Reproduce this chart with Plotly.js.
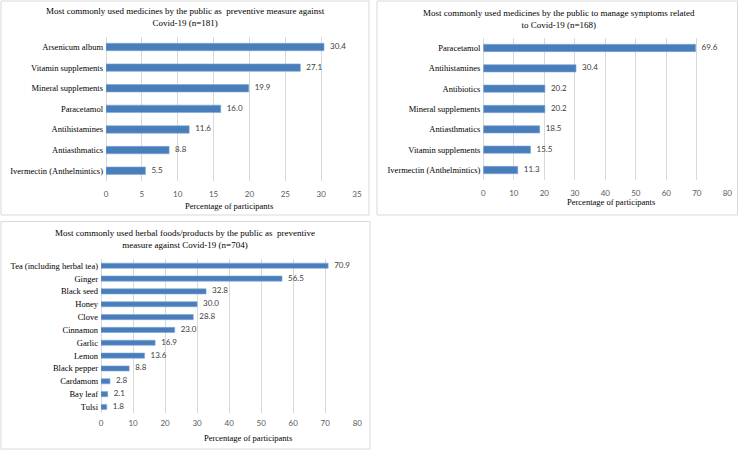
<!DOCTYPE html>
<html>
<head>
<meta charset="utf-8">
<script src="https://cdn.plot.ly/plotly-3.0.1.min.js"></script>
<style>html,body{margin:0;padding:0;background:#fff;}#chart{width:740px;height:450px;}</style>
</head>
<body>
<div id="chart"></div>
<script>
// Panel 1: preventive medicines (n=181)
const prevCategories = ["Arsenicum album", "Vitamin supplements", "Mineral supplements", "Paracetamol", "Antihistamines", "Antiasthmatics", "Ivermectin (Anthelmintics)"];
const prevValues = [30.4, 27.1, 19.9, 16.0, 11.6, 8.8, 5.5];
const prevTicks = [0, 5, 10, 15, 20, 25, 30, 35];

// Panel 2: symptom management medicines (n=168)
const sympCategories = ["Paracetamol", "Antihistamines", "Antibiotics", "Mineral supplements", "Antiasthmatics", "Vitamin supplements", "Ivermectin (Anthelmintics)"];
const sympValues = [69.6, 30.4, 20.2, 20.2, 18.5, 15.5, 11.3];
const sympTicks = [0, 10, 20, 30, 40, 50, 60, 70, 80];

// Panel 3: herbal foods/products (n=704)
const herbCategories = ["Tea (including herbal tea)", "Ginger", "Black seed", "Honey", "Clove", "Cinnamon", "Garlic", "Lemon", "Black pepper", "Cardamom", "Bay leaf", "Tulsi"];
const herbValues = [70.9, 56.5, 32.8, 30.0, 28.8, 23.0, 16.9, 13.6, 8.8, 2.8, 2.1, 1.8];
const herbTicks = [0, 10, 20, 30, 40, 50, 60, 70, 80];

const W = 740, H = 450;
const px = v => v / W;
const py = v => 1 - v / H;
const BAR = '#4A7EBB';
const SERIF = 'Liberation Serif, Times New Roman, serif';
const SANS = 'Lato, Carlito, sans-serif';
const GRID = '#d9d9d9';

function barTrace(cats, vals, xa, ya, width) {
  return {
    type: 'bar', orientation: 'h', x: vals, y: cats,
    xaxis: xa, yaxis: ya, width: width,
    marker: {color: BAR, line: {color: '#7ea6d8', width: 0.6}},
    hoverinfo: 'skip', showlegend: false
  };
}
function labelTrace(cats, vals, xa, ya) {
  return {
    type: 'scatter', mode: 'markers+text', x: vals, y: cats,
    xaxis: xa, yaxis: ya,
    marker: {size: 8, opacity: 0, color: BAR},
    text: vals.map(v => v.toFixed(1)), textposition: 'middle right',
    textfont: {family: SANS, size: 8, color: '#404040'},
    cliponaxis: false, hoverinfo: 'skip', showlegend: false
  };
}

const data = [
  barTrace(prevCategories, prevValues, 'x', 'y', 0.36),
  barTrace(sympCategories, sympValues, 'x2', 'y2', 0.36),
  barTrace(herbCategories, herbValues, 'x3', 'y3', 0.40),
  labelTrace(prevCategories, prevValues, 'x', 'y'),
  labelTrace(sympCategories, sympValues, 'x2', 'y2'),
  labelTrace(herbCategories, herbValues, 'x3', 'y3')
];

function xAxis(domain, ticks, anchor, standoff) {
  return {
    domain: domain, anchor: anchor, range: [0, ticks[ticks.length - 1]],
    tickvals: ticks, showgrid: true, gridcolor: GRID, gridwidth: 1,
    zeroline: true, zerolinecolor: GRID, zerolinewidth: 1,
    showline: false, ticks: '', fixedrange: true, ticklabelstandoff: standoff,
    tickfont: {family: SANS, size: 8, color: '#595959'}
  };
}
function yAxis(domain, cats, anchor) {
  return {
    domain: domain, anchor: anchor, type: 'category',
    range: [cats.length - 0.5, -0.5], showgrid: false, zeroline: false,
    showline: false, ticks: '', fixedrange: true, ticklabelstandoff: 2,
    tickfont: {family: SERIF, size: 8.5, color: '#000'}
  };
}

const layout = {
  width: W, height: H,
  margin: {l: 0, r: 0, t: 0, b: 0},
  paper_bgcolor: '#fff', plot_bgcolor: 'rgba(0,0,0,0)',
  bargap: 0.6,
  xaxis: xAxis([px(106), px(357)], prevTicks, 'y', 7),
  yaxis: yAxis([py(181), py(36.7)], prevCategories, 'x'),
  xaxis2: xAxis([px(483.3), px(727.3)], sympTicks, 'y2', 7),
  yaxis2: yAxis([py(180.2), py(37.8)], sympCategories, 'x2'),
  xaxis3: xAxis([px(101), px(357.3)], herbTicks, 'y3', 4),
  yaxis3: yAxis([py(413.4), py(259.3)], herbCategories, 'x3'),
  shapes: [
    {type: 'rect', xref: 'paper', yref: 'paper', x0: px(1), x1: px(369), y0: py(215), y1: py(1), line: {color: GRID, width: 1}},
    {type: 'rect', xref: 'paper', yref: 'paper', x0: px(377), x1: px(737.5), y0: py(215), y1: py(1), line: {color: GRID, width: 1}},
    {type: 'rect', xref: 'paper', yref: 'paper', x0: px(1), x1: px(370), y0: py(449), y1: py(221.5), line: {color: GRID, width: 1}}
  ],
  annotations: [
    {xref: 'paper', yref: 'paper', x: px(185), y: py(17.5), showarrow: false, xanchor: 'center', yanchor: 'middle',
     text: 'Most commonly used medicines by the public as  preventive measure against<br>Covid-19 (n=181)',
     font: {family: SERIF, size: 9, color: '#000'}},
    {xref: 'paper', yref: 'paper', x: px(558.5), y: py(19), showarrow: false, xanchor: 'center', yanchor: 'middle',
     text: 'Most commonly used medicines by the public to manage symptoms related<br>to Covid-19 (n=168)',
     font: {family: SERIF, size: 9, color: '#000'}},
    {xref: 'paper', yref: 'paper', x: px(185.3), y: py(239.2), showarrow: false, xanchor: 'center', yanchor: 'middle',
     text: 'Most commonly used herbal foods/products by the public as  preventive<br>measure against Covid-19 (n=704)',
     font: {family: SERIF, size: 9, color: '#000'}},
    {xref: 'paper', yref: 'paper', x: px(228.5), y: py(206), showarrow: false, xanchor: 'center', yanchor: 'middle',
     text: 'Percentage of participants', font: {family: SERIF, size: 8.5, color: '#000'}},
    {xref: 'paper', yref: 'paper', x: px(610.8), y: py(202), showarrow: false, xanchor: 'center', yanchor: 'middle',
     text: 'Percentage of participants', font: {family: SERIF, size: 8.5, color: '#000'}},
    {xref: 'paper', yref: 'paper', x: px(247.7), y: py(437.7), showarrow: false, xanchor: 'center', yanchor: 'middle',
     text: 'Percentage of participants', font: {family: SERIF, size: 8.5, color: '#000'}}
  ]
};

Plotly.newPlot('chart', data, layout, {staticPlot: true, displayModeBar: false});
</script>
</body>
</html>
